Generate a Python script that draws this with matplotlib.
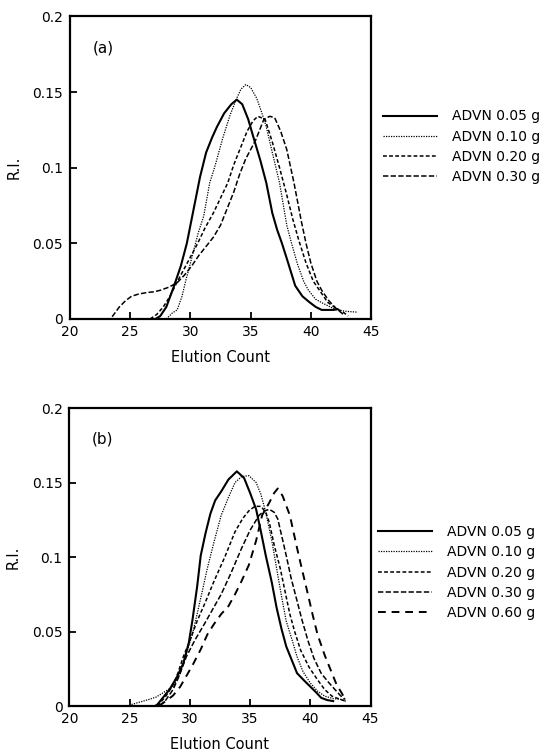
import matplotlib
matplotlib.use("Agg")
import matplotlib.pyplot as plt

# ---- panel (a) ----
a_labels = ["ADVN 0.05 g", "ADVN 0.10 g", "ADVN 0.20 g", "ADVN 0.30 g"]

a05_x = [27.1, 27.5, 28.0, 28.6, 29.2, 29.7, 30.3, 30.8, 31.3, 31.8, 32.2, 32.8, 33.4, 33.85,
         34.3, 34.8, 35.2, 35.8, 36.3, 36.8, 37.2, 37.6, 38.0, 38.7, 39.3, 39.9, 40.4, 40.9, 41.9, 42.2]
a05_y = [0.0, 0.002, 0.008, 0.021, 0.035, 0.050, 0.074, 0.094, 0.110, 0.120, 0.127, 0.136, 0.142, 0.145,
         0.142, 0.132, 0.121, 0.105, 0.090, 0.070, 0.059, 0.050, 0.040, 0.022, 0.015, 0.011, 0.008, 0.006, 0.006, 0.0065]

a10_x = [28.0, 28.5, 28.9, 29.3, 29.6, 30.0, 30.65, 31.1, 31.6, 32.0, 32.7, 33.3, 33.85, 34.2, 34.6,
         35.0, 35.5, 35.9, 36.3, 36.8, 37.4, 38.0, 38.4, 38.9, 39.4, 39.8, 40.4, 41.0, 41.6, 42.15, 43.0, 43.9]
a10_y = [0.0, 0.004, 0.006, 0.015, 0.025, 0.037, 0.057, 0.068, 0.090, 0.100, 0.120, 0.135, 0.146, 0.152, 0.155,
         0.153, 0.146, 0.137, 0.127, 0.110, 0.090, 0.062, 0.050, 0.036, 0.025, 0.019, 0.013, 0.0104, 0.008, 0.006, 0.005, 0.0045]

a20_x = [26.65, 27.2, 27.75, 28.3, 28.8, 29.4, 30.0, 30.6, 31.2, 31.9, 32.5, 33.1, 33.6, 34.1, 34.7, 35.2,
         35.6, 36.2, 36.8, 37.4, 38.0, 38.5, 39.0, 39.6, 40.2, 40.8, 41.4, 42.1, 42.6, 43.1]
a20_y = [0.0, 0.003, 0.008, 0.015, 0.023, 0.032, 0.041, 0.050, 0.060, 0.070, 0.080, 0.090, 0.102, 0.112, 0.124, 0.131,
         0.134, 0.132, 0.117, 0.100, 0.082, 0.066, 0.052, 0.037, 0.025, 0.018, 0.011, 0.007, 0.005, 0.002]

a30_x = [23.5, 24.1, 24.6, 25.1, 25.7, 26.4, 27.0, 27.5, 28.2, 28.9, 29.5, 30.1, 30.7, 31.3, 31.9, 32.5,
         33.0, 33.6, 34.1, 34.6, 35.0, 35.4, 35.8, 36.1, 36.6, 37.0, 37.5, 38.0, 38.6, 39.2, 39.6, 40.0,
         40.5, 40.9, 41.5, 42.1, 42.7]
a30_y = [0.0015, 0.008, 0.012, 0.015, 0.0165, 0.0175, 0.018, 0.019, 0.021, 0.024, 0.029, 0.035, 0.042, 0.048, 0.054, 0.062,
         0.072, 0.084, 0.096, 0.106, 0.112, 0.118, 0.126, 0.132, 0.134, 0.133, 0.124, 0.112, 0.090, 0.065, 0.050, 0.037,
         0.025, 0.019, 0.012, 0.007, 0.003]

# ---- panel (b) ----
b_labels = ["ADVN 0.05 g", "ADVN 0.10 g", "ADVN 0.20 g", "ADVN 0.30 g", "ADVN 0.60 g"]

b05_x = [27.1, 27.3, 28.3, 28.9, 29.45, 29.9, 30.2, 30.6, 30.9, 31.3, 31.7, 32.1, 32.6, 33.2, 33.9, 34.5,
         35.0, 35.5, 35.9, 36.3, 36.8, 37.2, 37.6, 38.0, 38.5, 38.9, 39.5, 40.0, 40.5, 40.9, 41.4, 41.9]
b05_y = [0.0, 0.001, 0.011, 0.019, 0.0286, 0.042, 0.057, 0.080, 0.101, 0.116, 0.129, 0.138, 0.144, 0.152, 0.1575, 0.153,
         0.143, 0.132, 0.117, 0.101, 0.083, 0.066, 0.052, 0.040, 0.030, 0.022, 0.017, 0.013, 0.009, 0.0055, 0.004, 0.0033]

b10_x = [25.15, 26.0, 26.6, 27.2, 27.8, 28.6, 29.2, 29.7, 30.2, 30.6, 31.0, 31.45, 32.0, 32.6, 33.2, 33.75, 34.3,
         34.9, 35.5, 35.9, 36.3, 36.8, 37.2, 37.6, 38.0, 38.5, 38.9, 39.4, 40.0, 40.6, 41.2, 41.9, 42.6, 43.0]
b10_y = [0.001, 0.003, 0.0044, 0.006, 0.009, 0.013, 0.022, 0.035, 0.048, 0.0617, 0.076, 0.0925, 0.110, 0.128, 0.140, 0.150, 0.154,
         0.1546, 0.150, 0.142, 0.130, 0.111, 0.0925, 0.074, 0.057, 0.044, 0.033, 0.023, 0.0154, 0.010, 0.0066, 0.005, 0.0044, 0.003]

b20_x = [27.3, 28.0, 28.6, 29.0, 29.45, 30.0, 30.6, 31.3, 32.0, 32.9, 33.75, 34.4, 34.9, 35.4, 35.9, 36.3, 36.6,
         37.0, 37.5, 37.9, 38.3, 38.7, 39.2, 39.9, 40.6, 41.2, 41.8, 42.3, 42.9]
b20_y = [0.0, 0.0066, 0.014, 0.022, 0.033, 0.044, 0.057, 0.070, 0.0837, 0.100, 0.117, 0.126, 0.131, 0.134, 0.134, 0.130, 0.123,
         0.108, 0.0925, 0.077, 0.0617, 0.050, 0.0374, 0.026, 0.0176, 0.011, 0.0066, 0.005, 0.0033]

b30_x = [27.5, 28.0, 28.6, 29.1, 29.7, 30.4, 31.2, 31.9, 32.6, 33.4, 34.3, 35.0, 35.75, 36.2, 36.6, 37.0, 37.3,
         37.6, 38.0, 38.4, 38.9, 39.3, 39.8, 40.3, 40.9, 41.5, 42.05, 42.5, 42.9]
b30_y = [0.0, 0.004, 0.011, 0.020, 0.033, 0.044, 0.055, 0.065, 0.075, 0.089, 0.106, 0.118, 0.128, 0.131, 0.132, 0.130, 0.1255,
         0.115, 0.101, 0.086, 0.0705, 0.058, 0.044, 0.032, 0.022, 0.016, 0.011, 0.007, 0.0044]

b60_x = [27.4, 28.0, 28.6, 29.2, 29.7, 30.3, 30.9, 31.45, 32.0, 32.6, 33.2, 33.75, 34.3, 34.9, 35.5, 36.0, 36.6,
         37.0, 37.3, 37.7, 38.3, 38.6, 38.9, 39.3, 39.8, 40.2, 40.6, 41.2, 41.8, 42.2, 42.6, 42.9]
b60_y = [0.0, 0.0033, 0.007, 0.013, 0.020, 0.0286, 0.038, 0.048, 0.055, 0.0617, 0.067, 0.075, 0.084, 0.0947, 0.111, 0.128, 0.1366,
         0.143, 0.146, 0.141, 0.128, 0.117, 0.106, 0.092, 0.075, 0.061, 0.048, 0.034, 0.022, 0.014, 0.0088, 0.0044]

x_ticks = [20, 25, 30, 35, 40, 45]
y_ticks = [0, 0.05, 0.1, 0.15, 0.2]
y_ticklabels = ["0", "0.05", "0.1", "0.15", "0.2"]

# line styles per series
styles = [
    dict(ls="-", lw=1.5),
    dict(ls=(0, (1, 1)), lw=0.9),
    dict(ls=(0, (2.5, 1.5)), lw=1.1),
    dict(ls=(0, (3.5, 1.5)), lw=1.1),
    dict(ls=(0, (4, 3)), lw=1.4),
]


def style_axes(ax, tag):
    ax.set_xlim(20, 45)
    ax.set_ylim(0, 0.2)
    ax.set_xticks(x_ticks)
    ax.set_yticks(y_ticks)
    ax.set_yticklabels(y_ticklabels)
    ax.tick_params(direction="in", length=5, width=1.3, labelsize=10, pad=5)
    ax.tick_params(axis="x", pad=4)
    for sp in ax.spines.values():
        sp.set_linewidth(1.6)
    ax.set_xlabel("Elution Count", fontsize=10.5, labelpad=8)
    ax.set_ylabel("R.I.", fontsize=10.5, labelpad=8)
    ax.text(0.075, 0.895, tag, transform=ax.transAxes, fontsize=11, va="center")


fig = plt.figure(figsize=(5.42, 7.55), dpi=100)

ax1 = fig.add_axes([0.1292, 0.5775, 0.5554, 0.4007])
series_a = [(a05_x, a05_y), (a10_x, a10_y), (a20_x, a20_y), (a30_x, a30_y)]
for (xs, ys), lab, st in zip(series_a, a_labels, styles):
    ax1.plot(xs, ys, color="black", label=lab, **st)
style_axes(ax1, "(a)")
ax1.legend(loc="upper left", bbox_to_anchor=(0.7066, 0.855), bbox_transform=fig.transFigure,
           frameon=False, fontsize=10, handlelength=3.9, handletextpad=1.1,
           labelspacing=0.45, borderpad=0, borderaxespad=0)

ax2 = fig.add_axes([0.1282, 0.0649, 0.5554, 0.3947])
series_b = [(b05_x, b05_y), (b10_x, b10_y), (b20_x, b20_y), (b30_x, b30_y), (b60_x, b60_y)]
for (xs, ys), lab, st in zip(series_b, b_labels, styles):
    ax2.plot(xs, ys, color="black", label=lab, **st)
style_axes(ax2, "(b)")
ax2.legend(loc="upper left", bbox_to_anchor=(0.697, 0.3046), bbox_transform=fig.transFigure,
           frameon=False, fontsize=10, handlelength=3.9, handletextpad=1.1,
           labelspacing=0.45, borderpad=0, borderaxespad=0)

fig.savefig("out.png", dpi=100)
